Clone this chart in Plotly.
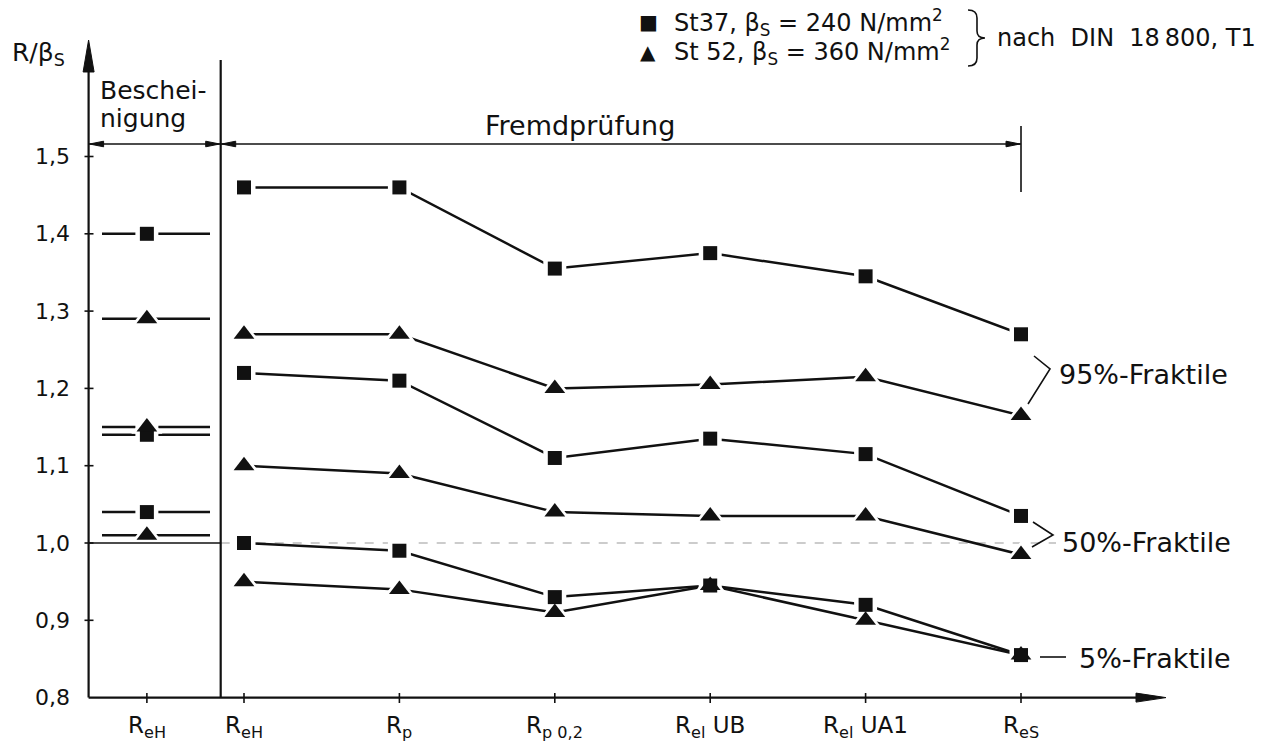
import plotly.graph_objects as go

W, H = 1268, 743
FONT = "DejaVu Sans"
INK = "#111111"

# ---------------------------------------------------------------- data
cert_label = "R<sub>eH</sub>"
test_labels = ["R<sub>eH</sub>", "R<sub>p</sub>", "R<sub>p 0,2</sub>",
               "R<sub>el</sub> UB", "R<sub>el</sub> UA1", "R<sub>eS</sub>"]

# Bescheinigung (mill certificate), R_eH / beta_S
cert_st37 = [1.40, 1.14, 1.04]
cert_st52 = [1.29, 1.15, 1.01]

# Fremdpruefung, fractiles of R / beta_S
st37_95 = [1.46, 1.46, 1.355, 1.375, 1.345, 1.27]
st52_95 = [1.27, 1.27, 1.20, 1.205, 1.215, 1.165]
st37_50 = [1.22, 1.21, 1.11, 1.135, 1.115, 1.035]
st52_50 = [1.10, 1.09, 1.04, 1.035, 1.035, 0.985]
st37_05 = [1.00, 0.99, 0.93, 0.945, 0.92, 0.855]
st52_05 = [0.95, 0.94, 0.91, 0.945, 0.90, 0.855]

y_ticks = [0.8, 0.9, 1.0, 1.1, 1.2, 1.3, 1.4, 1.5]
y_tick_labels = ["0,8", "0,9", "1,0", "1,1", "1,2", "1,3", "1,4", "1,5"]

# ---------------------------------------------------------------- geometry
# x: test categories sit at 1..6, the certificate column left of the divider
X_TEST = list(range(1, len(test_labels) + 1))
X_CERT = 0.375
X_DIV = 0.85
X_AXIS = 0.0
PX_PER_X = 155.4
PX_PER_Y = 773.0


def dx(px):
    return 1 + (px - 244) / PX_PER_X


def dy(py):
    return 1 + (543 - py) / PX_PER_Y


def pp(px, py):
    return f"{px / W:.5f},{1 - py / H:.5f}"


def head(tx, ty, direction, length, half):
    """filled arrow head (paper coords) with its tip at pixel (tx, ty)"""
    if direction == "up":
        pts = [(tx, ty), (tx - half, ty + length), (tx + half, ty + length)]
    elif direction == "right":
        pts = [(tx, ty), (tx - length, ty - half), (tx - length, ty + half)]
    else:
        pts = [(tx, ty), (tx + length, ty - half), (tx + length, ty + half)]
    path = "M " + " L ".join(pp(*p) for p in pts) + " Z"
    return dict(type="path", xref="paper", yref="paper", path=path,
                fillcolor=INK, line=dict(color=INK, width=1), layer="above")


def polyline(points, width=1.6):
    path = "M " + " L ".join(pp(*p) for p in points)
    return dict(type="path", xref="paper", yref="paper", path=path,
                line=dict(color=INK, width=width), layer="above")


fig = go.Figure()

# ---------------------------------------------------------------- lines
LW = 2.5
cert_x0, cert_x1 = dx(102), dx(210)
seg_x, seg_y = [], []
for v in cert_st37 + cert_st52:
    seg_x += [cert_x0, cert_x1, None]
    seg_y += [v, v, None]
fig.add_trace(go.Scatter(x=seg_x, y=seg_y, mode="lines",
                         line=dict(color=INK, width=LW), hoverinfo="skip"))

for series in (st37_95, st52_95, st37_50, st52_50, st37_05, st52_05):
    fig.add_trace(go.Scatter(x=X_TEST, y=series, mode="lines",
                             line=dict(color=INK, width=LW), hoverinfo="skip"))

sq_x = [X_CERT] * len(cert_st37) + X_TEST * 3
sq_y = cert_st37 + st37_95 + st37_50 + st37_05
tr_x = [X_CERT] * len(cert_st52) + X_TEST * 3
tr_y = cert_st52 + st52_95 + st52_50 + st52_05

SQ, TR = 14, 18
# white halos leave a small gap between the lines and the symbols
fig.add_trace(go.Scatter(x=sq_x, y=sq_y, mode="markers", hoverinfo="skip",
                         marker=dict(symbol="square", size=SQ + 9, color="white")))
fig.add_trace(go.Scatter(x=tr_x, y=tr_y, mode="markers", hoverinfo="skip",
                         marker=dict(symbol="triangle-up", size=TR + 9, color="white")))
fig.add_trace(go.Scatter(x=sq_x, y=sq_y, mode="markers", name="St 37",
                         marker=dict(symbol="square", size=SQ, color=INK)))
fig.add_trace(go.Scatter(x=tr_x, y=tr_y, mode="markers", name="St 52",
                         marker=dict(symbol="triangle-up", size=TR, color=INK)))

# ---------------------------------------------------------------- frame
shapes = []
AW = 2.2
y_bottom = y_ticks[0]
# y axis and x axis
shapes.append(dict(type="line", xref="x", yref="y", x0=X_AXIS, x1=X_AXIS,
                   y0=y_bottom, y1=dy(60), line=dict(color=INK, width=AW)))
shapes.append(dict(type="line", xref="x", yref="y", x0=X_AXIS, x1=dx(1145),
                   y0=y_bottom, y1=y_bottom, line=dict(color=INK, width=AW)))
shapes.append(head(244 + (X_AXIS - 1) * PX_PER_X, 40, "up", 32, 5.5))
shapes.append(head(1166, 543 - (y_bottom - 1) * PX_PER_Y, "right", 30, 4.5))

# divider between certificate and test results
shapes.append(dict(type="line", xref="x", yref="y", x0=X_DIV, x1=X_DIV,
                   y0=y_bottom, y1=dy(60), line=dict(color=INK, width=AW)))

# tick marks
for t in y_ticks[1:]:
    shapes.append(dict(type="line", xref="x", yref="y", x0=dx(84.5), x1=dx(93.5),
                       y0=t, y1=t, line=dict(color=INK, width=1.6)))
for xv in [X_CERT] + X_TEST:
    shapes.append(dict(type="line", xref="x", yref="y", x0=xv, x1=xv,
                       y0=dy(693), y1=dy(703), line=dict(color=INK, width=1.6)))

# beta_S reference line
shapes.append(dict(type="line", xref="x", yref="y", x0=X_AXIS, x1=X_DIV,
                   y0=1.0, y1=1.0, line=dict(color=INK, width=1.4), layer="below"))
shapes.append(dict(type="line", xref="x", yref="y", x0=X_DIV, x1=dx(1056),
                   y0=1.0, y1=1.0, line=dict(color="#9a9a9a", width=1.1, dash="dash"),
                   layer="below"))

# range arrows: Bescheinigung / Fremdpruefung
Y_RANGE = 144
x_ax_px = 244 + (X_AXIS - 1) * PX_PER_X
x_div_px = 244 + (X_DIV - 1) * PX_PER_X
x_end_px = 244 + (X_TEST[-1] - 1) * PX_PER_X
shapes.append(polyline([(x_ax_px, Y_RANGE), (x_end_px, Y_RANGE)], width=1.6))
shapes.append(head(x_ax_px + 1, Y_RANGE, "left", 14, 2.8))
shapes.append(head(x_div_px - 1, Y_RANGE, "right", 14, 2.8))
shapes.append(head(x_div_px + 1, Y_RANGE, "left", 14, 2.8))
shapes.append(head(x_end_px - 1, Y_RANGE, "right", 14, 2.8))
shapes.append(polyline([(x_end_px, 126), (x_end_px, 192)], width=1.6))

# fractile brackets
shapes.append(polyline([(1034, 356), (1050, 369), (1028, 404)]))
shapes.append(polyline([(1033, 522), (1053, 535), (1032, 547)]))
shapes.append(polyline([(1040, 657), (1066, 657)]))

# legend brace
brace = ("M " + pp(968, 10) + " Q " + pp(977, 10) + " " + pp(977, 18)
         + " L " + pp(977, 31) + " Q " + pp(977, 38) + " " + pp(985, 38)
         + " Q " + pp(977, 38) + " " + pp(977, 45)
         + " L " + pp(977, 58) + " Q " + pp(977, 66) + " " + pp(968, 66))
shapes.append(dict(type="path", xref="paper", yref="paper", path=brace,
                   line=dict(color=INK, width=1.6), layer="above"))

# ---------------------------------------------------------------- text
ann = []


def text(s, px, py, size, xanchor="left", yanchor="middle"):
    ann.append(dict(text=s, x=px / W, y=1 - py / H, xref="paper", yref="paper",
                    xanchor=xanchor, yanchor=yanchor, showarrow=False,
                    font=dict(family=FONT, size=size, color=INK)))


for t, lab in zip(y_ticks, y_tick_labels):
    ann.append(dict(text=lab, x=dx(72), y=t, xref="x", yref="y", xanchor="right",
                    yanchor="middle", showarrow=False,
                    font=dict(family=FONT, size=22, color=INK)))
for xv, lab in zip([X_CERT] + X_TEST, [cert_label] + test_labels):
    ann.append(dict(text=lab, x=xv, y=dy(727), xref="x", yref="y", xanchor="center",
                    yanchor="middle", showarrow=False,
                    font=dict(family=FONT, size=23, color=INK)))

text("R/β<sub>S</sub>", 10, 54, 25)
text("Beschei-", 98, 90, 25)
text("nigung", 98, 118, 25)
text("Fremdprüfung", 580, 126, 27, xanchor="center")

text("■", 648, 22, 20, xanchor="center")
text("▲", 648, 52, 20, xanchor="center")
text("St37, β<sub>S</sub> = 240 N/mm<sup>2</sup>", 672, 22, 24)
text("St 52, β<sub>S</sub> = 360 N/mm<sup>2</sup>", 672, 52, 24)
text("nach\u00a0 DIN\u00a0 18\u2009800, T1", 995, 38, 24)

text("95%-Fraktile", 1057, 374, 27)
text("50%-Fraktile", 1060, 542, 27)
text("5%-Fraktile", 1077, 658, 27)

fig.update_layout(
    width=W, height=H,
    margin=dict(l=0, r=0, t=0, b=0),
    paper_bgcolor="white", plot_bgcolor="white",
    showlegend=False,
    xaxis=dict(range=[dx(0), dx(W)], visible=False, fixedrange=True),
    yaxis=dict(range=[dy(H), dy(0)], visible=False, fixedrange=True),
    shapes=shapes, annotations=ann,
)

fig.write_html("out.html")
